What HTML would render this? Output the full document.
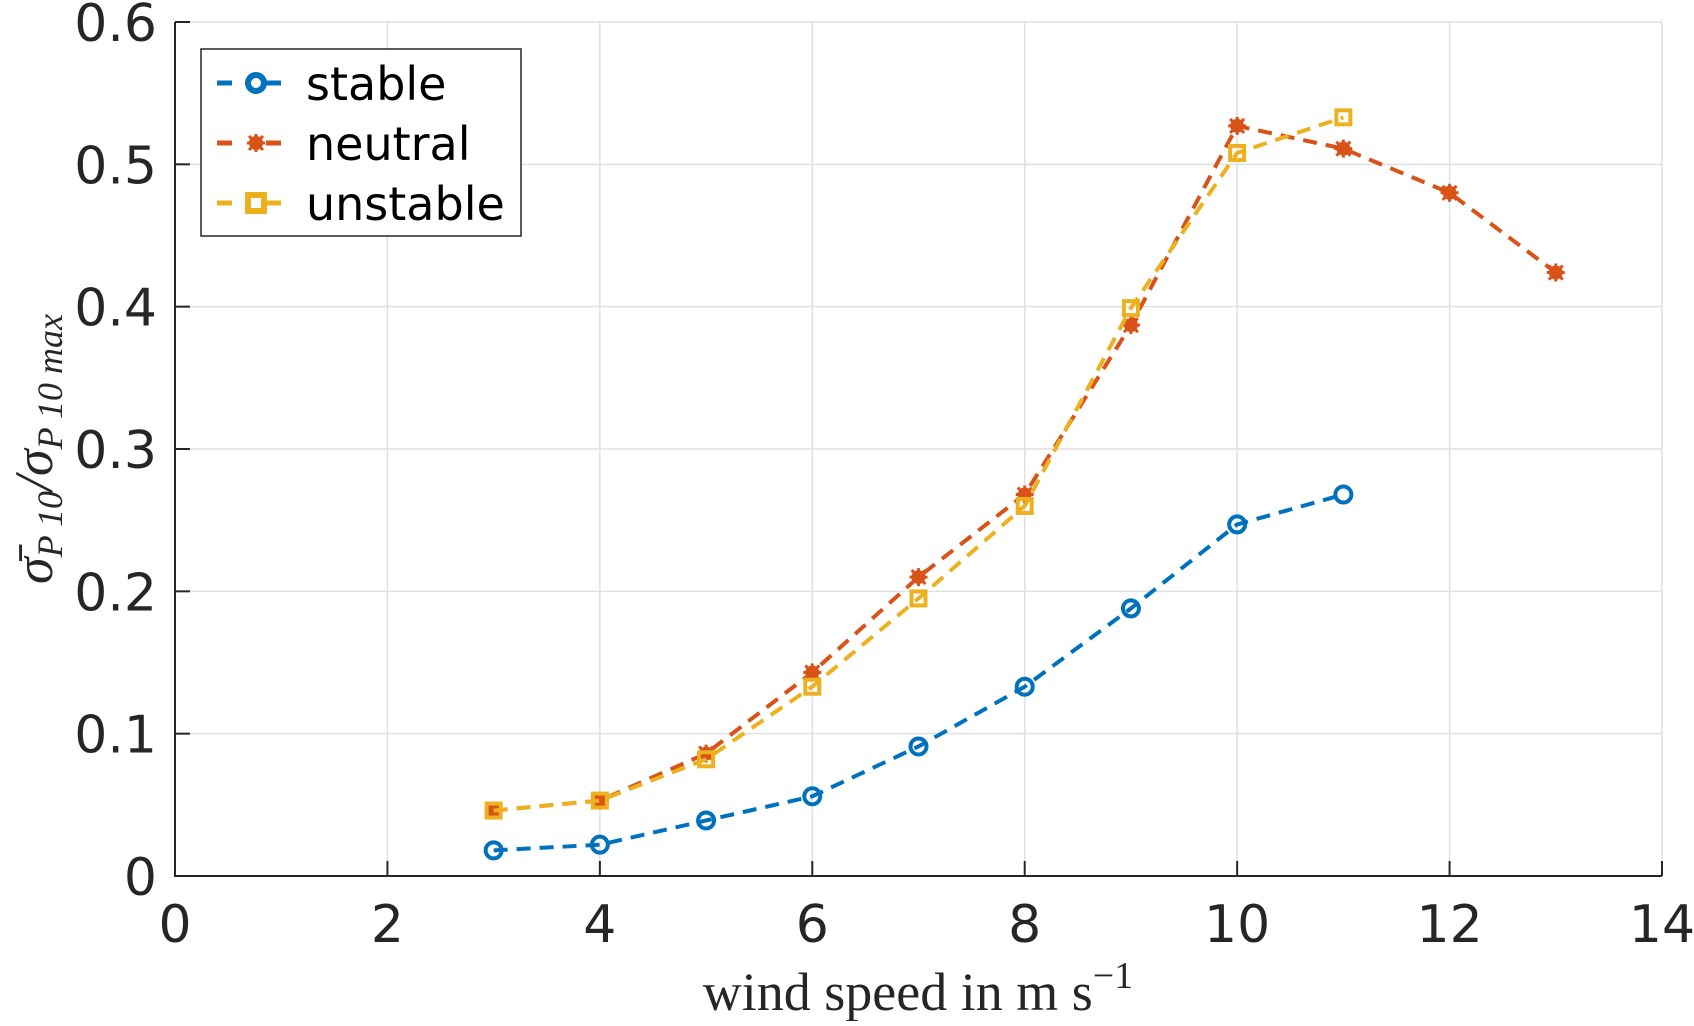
<!DOCTYPE html>
<html><head><meta charset="utf-8"><style>
body{margin:0;background:#fff}
svg text{font-family:"DejaVu Sans","Liberation Sans",sans-serif;fill:#262626}
</style></head><body>
<svg id="chart" width="1694" height="1021" xmlns="http://www.w3.org/2000/svg"></svg>
<script>
const xValues=[3,4,5,6,7,8,9,10,11,12,13];
const stableVals=[0.018,0.022,0.039,0.056,0.091,0.133,0.188,0.247,0.268];
const neutralVals=[0.046,0.053,0.086,0.143,0.210,0.268,0.387,0.527,0.511,0.480,0.424];
const unstableVals=[0.046,0.053,0.082,0.133,0.195,0.260,0.399,0.508,0.533];
const xTicks=[0,2,4,6,8,10,12,14];
const yTicks=[0,0.1,0.2,0.3,0.4,0.5,0.6];
const L=175,R=1662,T=22,B=876;
const sx=v=>L+(v-0)/14*(R-L);
const sy=v=>B-(v/0.6)*(B-T);
const svg=document.getElementById('chart');
const NS='http://www.w3.org/2000/svg';
function el(tag,attrs,parent){const e=document.createElementNS(NS,tag);for(const k in attrs)e.setAttribute(k,attrs[k]);(parent||svg).appendChild(e);return e;}
xTicks.forEach(t=>{const g=el('line',{x1:sx(t),x2:sx(t),y1:T,y2:B,stroke:'#e0e0e0','stroke-width':1.5});

});
yTicks.forEach(t=>{const g=el('line',{x1:L,x2:R,y1:sy(t),y2:sy(t),stroke:'#e0e0e0','stroke-width':1.5});

});
const ax=el('path',{d:`M${L},${T}V${B}H${R}`,fill:'none',stroke:'#262626','stroke-width':2});


xTicks.forEach(t=>{el('line',{x1:sx(t),x2:sx(t),y1:B,y2:B-15,stroke:'#262626','stroke-width':2});
const tx=el('text',{x:sx(t),y:B+66,'text-anchor':'middle','font-size':52});tx.textContent=t;

});
yTicks.forEach(t=>{el('line',{x1:L,x2:L+15,y1:sy(t),y2:sy(t),stroke:'#262626','stroke-width':2});
const tx=el('text',{x:L-18,y:sy(t)+19,'text-anchor':'end','font-size':52});tx.textContent=t===0?'0':t.toFixed(1);

});
const xl=el('text',{x:918,y:1010,'text-anchor':'middle','font-size':54,style:'font-family:"Liberation Serif",serif'});
xl.innerHTML='wind speed in m s<tspan dy="-22" font-size="38">−1</tspan>';


const yl=el('text',{transform:'translate(52,449) rotate(-90)','text-anchor':'middle','font-size':54,style:'font-family:"Liberation Serif",serif;font-style:italic'});
yl.innerHTML='σ̄<tspan dy="10" font-size="36">P 10</tspan><tspan dy="-10">/σ</tspan><tspan dy="10" font-size="36">P 10 max</tspan>';


const series=[{n:'stable',v:stableVals,c:'#0072BD',m:'circle'},{n:'neutral',v:neutralVals,c:'#D95319',m:'star'},{n:'unstable',v:unstableVals,c:'#EDB120',m:'square'}];
function marker(g,m,x,y,c){
 if(m==='circle')el('circle',{cx:x,cy:y,r:8,fill:'none',stroke:c,'stroke-width':4},g);
 else if(m==='square')el('rect',{x:x-7,y:y-7,width:14,height:14,fill:'none',stroke:c,'stroke-width':4},g);
 else {el('circle',{cx:x,cy:y,r:7,fill:c},g);el('path',{d:`M${x-9},${y}H${x+9}M${x},${y-9}V${y+9}M${x-7},${y-7}L${x+7},${y+7}M${x+7},${y-7}L${x-7},${y+7}`,stroke:c,'stroke-width':3},g);}
}
series.forEach(s=>{
 const g=el('g',{});
 
 
 const pts=s.v.map((v,i)=>`${sx(xValues[i])},${sy(v)}`).join(' ');
 el('polyline',{points:pts,fill:'none',stroke:s.c,'stroke-width':4,'stroke-dasharray':'14 9'},g);
 s.v.forEach((v,i)=>marker(g,s.m,sx(xValues[i]),sy(v),s.c));
});
const lg=el('g',{});


el('rect',{x:201,y:49,width:320,height:187,fill:'#fff',stroke:'#262626','stroke-width':1.5},lg);
series.forEach((s,i)=>{
 const y=83+i*60;
 const e=el('g',{},lg);
 
 
 el('line',{x1:217,x2:296,y1:y,y2:y,stroke:s.c,'stroke-width':5,'stroke-dasharray':'15 34'},e);
 if(s.m==='circle')el('circle',{cx:256,cy:y,r:8,fill:'none',stroke:s.c,'stroke-width':6},e);
 else if(s.m==='square')el('rect',{x:248,y:y-8,width:16,height:16,fill:'none',stroke:s.c,'stroke-width':6},e);
 else marker(e,s.m,256,y,s.c);
 const t=el('text',{x:306,y:y+17,'font-size':46,style:'fill:#000'},e);t.textContent=s.n;
});
</script>
</body></html>
